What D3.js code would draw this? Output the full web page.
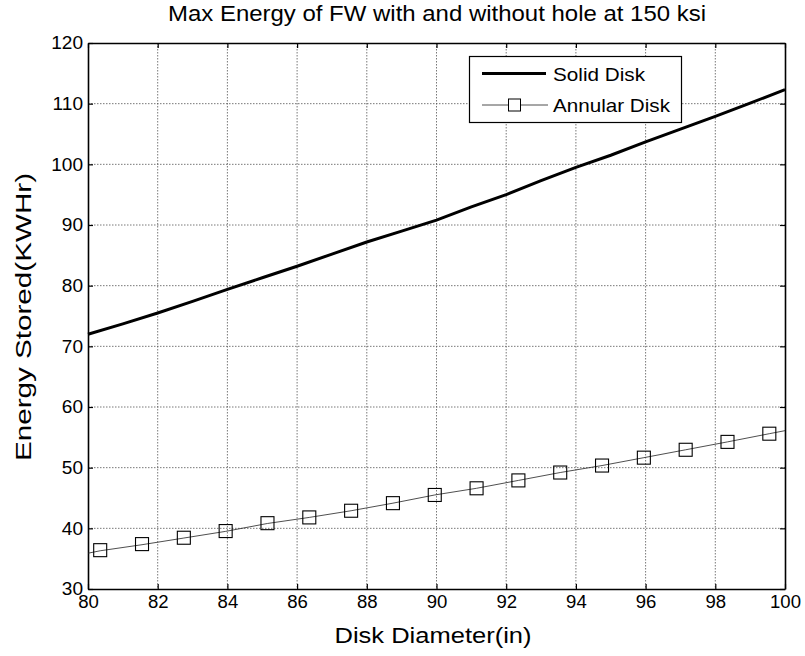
<!DOCTYPE html>
<html><head><meta charset="utf-8">
<script src="https://cdn.jsdelivr.net/npm/d3@7"></script>
<style>
body{margin:0;background:#fff;}
text{font-family:"Liberation Sans",Arial,sans-serif;fill:#000;}
</style></head>
<body><svg id="c" width="805" height="656"></svg>
<script>
const titleText = "Max Energy of FW with and without hole at 150 ksi";
const xLabel = "Disk Diameter(in)";
const yLabel = "Energy Stored(KWHr)";
const xTicks = [80,82,84,86,88,90,92,94,96,98,100];
const yTicks = [30,40,50,60,70,80,90,100,110,120];
const seriesNames = ["Solid Disk","Annular Disk"];

const solidX = [80,81,82,83,84,85,86,87,88,89,90,91,92,93,94,95,96,97,98,99,100];
const solidY = [72.0,73.7,75.5,77.4,79.4,81.3,83.2,85.2,87.2,89.0,90.8,93.0,95.0,97.3,99.5,101.5,103.7,105.8,107.9,110.1,112.3];

const annularLineX = [80,80.35,81.55,82.75,83.95,85.15,86.35,87.55,88.75,89.95,91.15,92.35,93.55,94.75,95.95,97.15,98.35,99.55,100];
const annularLineY = [35.9,36.3,37.3,38.4,39.5,40.8,41.8,42.9,44.15,45.5,46.6,47.9,49.2,50.35,51.65,52.95,54.25,55.6,56.1];
const annularMarkerX = [80.35,81.55,82.75,83.95,85.15,86.35,87.55,88.75,89.95,91.15,92.35,93.55,94.75,95.95,97.15,98.35,99.55];
const annularMarkerY = [36.4,37.4,38.45,39.55,40.85,41.8,42.9,44.15,45.5,46.6,47.9,49.2,50.35,51.65,52.95,54.25,55.6];

const L=88,R=785,T=43,B=589;
const svg=d3.select("#c");
const x=d3.scaleLinear().domain([80,100]).range([L,R]);
const y=d3.scaleLinear().domain([30,120]).range([B,T]);

function stretch(sel,f){sel.each(function(){const w=this.getComputedTextLength();d3.select(this).attr("textLength",w*f).attr("lengthAdjust","spacingAndGlyphs");});}

// grid
const g=svg.append("g");
g.selectAll(".gx").data(xTicks.slice(1,-1)).enter().append("line")
 .attr("x1",d=>x(d)).attr("x2",d=>x(d)).attr("y1",T).attr("y2",B)
 .attr("stroke","#555").attr("stroke-width",0.8).attr("stroke-dasharray","1.5,1.5");
g.selectAll(".gy").data(yTicks.slice(1,-1)).enter().append("line")
 .attr("y1",d=>y(d)).attr("y2",d=>y(d)).attr("x1",L).attr("x2",R)
 .attr("stroke","#555").attr("stroke-width",0.8).attr("stroke-dasharray","1.5,1.5");

// axes
const fmt=d3.format("d");
const axB=svg.append("g").attr("transform",`translate(0,${B})`).call(d3.axisBottom(x).tickValues(xTicks).tickFormat(fmt).tickSizeInner(-5).tickSizeOuter(0).tickPadding(6));
const axT=svg.append("g").attr("transform",`translate(0,${T})`).call(d3.axisTop(x).tickValues(xTicks).tickFormat("").tickSizeInner(-5).tickSizeOuter(0));
const axL=svg.append("g").attr("transform",`translate(${L},0)`).call(d3.axisLeft(y).tickValues(yTicks).tickFormat(fmt).tickSizeInner(-5).tickSizeOuter(0).tickPadding(5));
const axR=svg.append("g").attr("transform",`translate(${R},0)`).call(d3.axisRight(y).tickValues(yTicks).tickFormat("").tickSizeInner(-5).tickSizeOuter(0));
[axB,axT,axL,axR].forEach(a=>{a.select(".domain").attr("stroke","#000").attr("stroke-width",1.6);a.selectAll(".tick line").attr("stroke","#000").attr("stroke-width",1.2);a.selectAll("text").style("font-size","18px").style("font-family","'Liberation Sans',Arial,sans-serif").attr("fill","#000");});
stretch(axB.selectAll("text"),1.03);
stretch(axL.selectAll("text"),1.06);

// lines
const line=d3.line().x(d=>x(d[0])).y(d=>y(d[1]));
svg.append("path").datum(solidX.map((v,i)=>[v,solidY[i]])).attr("d",line)
 .attr("fill","none").attr("stroke","#000").attr("stroke-width",3);
svg.append("path").datum(annularLineX.map((v,i)=>[v,annularLineY[i]])).attr("d",line)
 .attr("fill","none").attr("stroke","#222").attr("stroke-width",0.8);
const ms=13;
svg.selectAll(".m").data(annularMarkerX.map((v,i)=>[v,annularMarkerY[i]])).enter().append("rect")
 .attr("x",d=>x(d[0])-ms/2).attr("y",d=>y(d[1])-ms/2).attr("width",ms).attr("height",ms)
 .attr("fill","none").attr("stroke","#000").attr("stroke-width",1.1);

// legend
const lg=svg.append("g");
lg.append("rect").attr("x",469.5).attr("y",56.5).attr("width",212).attr("height",66)
 .attr("fill","#fff").attr("stroke","#000").attr("stroke-width",1.2);
lg.append("line").attr("x1",482).attr("x2",546).attr("y1",73.5).attr("y2",73.5).attr("stroke","#000").attr("stroke-width",3);
lg.append("line").attr("x1",482).attr("x2",548).attr("y1",105).attr("y2",105).attr("stroke","#222").attr("stroke-width",0.8);
lg.append("rect").attr("x",508.5).attr("y",99).attr("width",12).attr("height",12).attr("fill","#fff").attr("stroke","#000");
lg.append("text").attr("x",553).attr("y",81).style("font-size","19px").attr("textLength",92).attr("lengthAdjust","spacingAndGlyphs").text(seriesNames[0]);
lg.append("text").attr("x",553).attr("y",112).style("font-size","19px").attr("textLength",117).attr("lengthAdjust","spacingAndGlyphs").text(seriesNames[1]);

// titles
svg.append("text").attr("x",437).attr("y",21).attr("text-anchor","middle").style("font-size","21.5px")
 .attr("textLength",538).attr("lengthAdjust","spacingAndGlyphs").text(titleText);
svg.append("text").attr("x",433).attr("y",643).attr("text-anchor","middle").style("font-size","22.5px")
 .attr("textLength",197).attr("lengthAdjust","spacingAndGlyphs").text(xLabel);
svg.append("text").attr("transform",`translate(31,317) rotate(-90)`).attr("text-anchor","middle").style("font-size","22.5px")
 .attr("textLength",288).attr("lengthAdjust","spacingAndGlyphs").text(yLabel);
</script></body></html>
